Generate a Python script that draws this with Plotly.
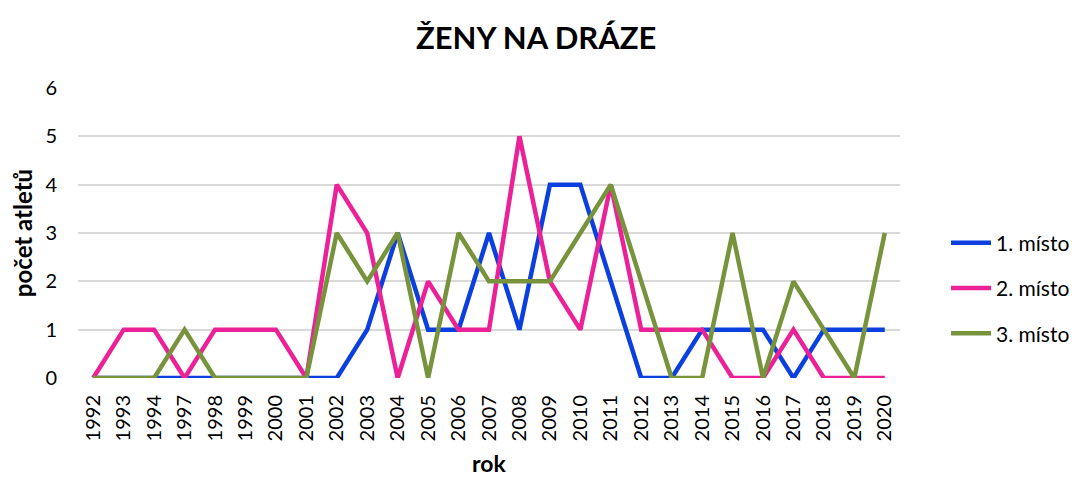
import plotly.graph_objects as go

years = ["1992", "1993", "1994", "1997", "1998", "1999", "2000", "2001", "2002", "2003",
         "2004", "2005", "2006", "2007", "2008", "2009", "2010", "2011", "2012", "2013",
         "2014", "2015", "2016", "2017", "2018", "2019", "2020"]
first = [0, 0, 0, 0, 0, 0, 0, 0, 0, 1, 3, 1, 1, 3, 1, 4, 4, 2, 0, 0, 1, 1, 1, 0, 1, 1, 1]
second = [0, 1, 1, 0, 1, 1, 1, 0, 4, 3, 0, 2, 1, 1, 5, 2, 1, 4, 1, 1, 1, 0, 0, 1, 0, 0, 0]
third = [0, 0, 0, 1, 0, 0, 0, 0, 3, 2, 3, 0, 3, 2, 2, 2, 3, 4, 2, 0, 0, 3, 0, 2, 1, 0, 3]
y_ticks = [0, 1, 2, 3, 4, 5, 6]

series = [
    ("1. místo", first, "#0B3FE0"),
    ("2. místo", second, "#EC2197"),
    ("3. místo", third, "#77933C"),
]

FONT = "Lato, Carlito, Calibri, 'Open Sans', sans-serif"

fig = go.Figure()
for name, vals, col in series:
    fig.add_trace(go.Scatter(
        x=years, y=vals, name=name, mode="lines", legendgroup=name,
        line=dict(color=col, width=4.5, shape="linear"),
    ))

fig.update_layout(
    width=1080, height=477,
    margin=dict(l=70, r=188, t=80, b=105),
    paper_bgcolor="white", plot_bgcolor="white",
    font=dict(family=FONT, size=19, color="#000000"),
    title=dict(text="<b>ŽENY NA DRÁZE</b>", x=0.489, xanchor="center", xref="container",
               y=0.937, yanchor="middle", yref="container",
               font=dict(family=FONT, size=31, color="#000000")),
    showlegend=True,
    legend=dict(x=1.056, y=0.31, xanchor="left", yanchor="middle",
                font=dict(family=FONT, size=21, color="#000000"),
                tracegroupgap=15, itemwidth=40, bgcolor="rgba(0,0,0,0)"),
    xaxis=dict(
        type="category", categoryorder="array", categoryarray=years,
        tickangle=-90, showgrid=False, zeroline=False, showline=False,
        ticks="", ticklabelstandoff=12,
        tickfont=dict(family=FONT, size=20, color="#000000"),
        title=dict(text="<b>rok</b>", font=dict(family=FONT, size=23, color="#000000"),
                   standoff=15),
        range=[-0.5, len(years) - 0.5],
    ),
    yaxis=dict(
        range=[0, 6], tickvals=y_ticks, showgrid=True, gridcolor="#D9D9D9",
        gridwidth=1.5, zeroline=False, showline=False, ticks="",
        ticklabelstandoff=20,
        tickfont=dict(family=FONT, size=20, color="#000000"),
        title=dict(text="<b>počet atletů</b>", font=dict(family=FONT, size=24, color="#000000"),
                   standoff=8),
    ),
)

fig.write_html("out.html")
